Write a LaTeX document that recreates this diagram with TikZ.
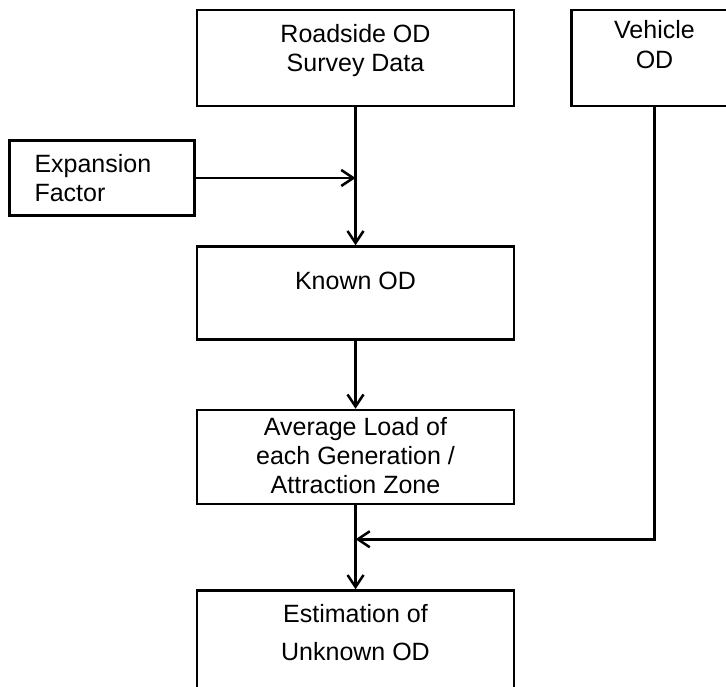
\documentclass[tikz,border=0pt]{standalone}
\usepackage{fontspec}
\setmainfont{Liberation Sans}
\usetikzlibrary{arrows.meta,positioning}

\begin{document}
\begin{tikzpicture}[
    x=1pt,y=1pt,
    box/.style={draw,line width=2.5pt,minimum width=317pt,minimum height=96pt,
      inner sep=2pt,align=center,font=\fontsize{25pt}{29pt}\selectfont},
    flow/.style={line width=2.5pt,->},
    >={Straight Barb[length=12pt,width=16pt]}]
  \useasboundingbox (0,0) rectangle (726,-687);
  \node[box,text depth=21pt] (road) at (355.5,-58) {Roadside OD\\Survey Data};
  \node[box,right=55pt of road,minimum width=166pt,text depth=28pt,
    font=\fontsize{25pt}{30pt}\selectfont] (vehicle) {Vehicle\\OD};
  \node[box,below left=32pt and 0pt of road,minimum width=0pt,minimum height=75pt,
    text width=135pt,inner xsep=25pt,align=left] (expansion) {Expansion\\Factor};
  \node[box,below=138pt of road,minimum height=93pt,text height=18pt,text depth=25pt] (known) {Known OD};
  \node[box,below=68pt of known,minimum height=94pt,text height=74pt] (avgload) {Average Load of\\each Generation /\\Attraction Zone};
  \node[box,below=84pt of avgload,minimum height=125pt,text depth=41pt] (unknown) {Estimation of\\[9pt]Unknown OD};
  \coordinate[below=34pt of avgload] (merge);
  \draw[flow] (road) -- (known);
  \draw[flow] (expansion) -- (expansion -| road);
  \draw[flow] (known) -- (avgload);
  \draw[flow] (avgload) -- (unknown);
  \draw[flow] (vehicle) |- (merge);
\end{tikzpicture}
\end{document}
